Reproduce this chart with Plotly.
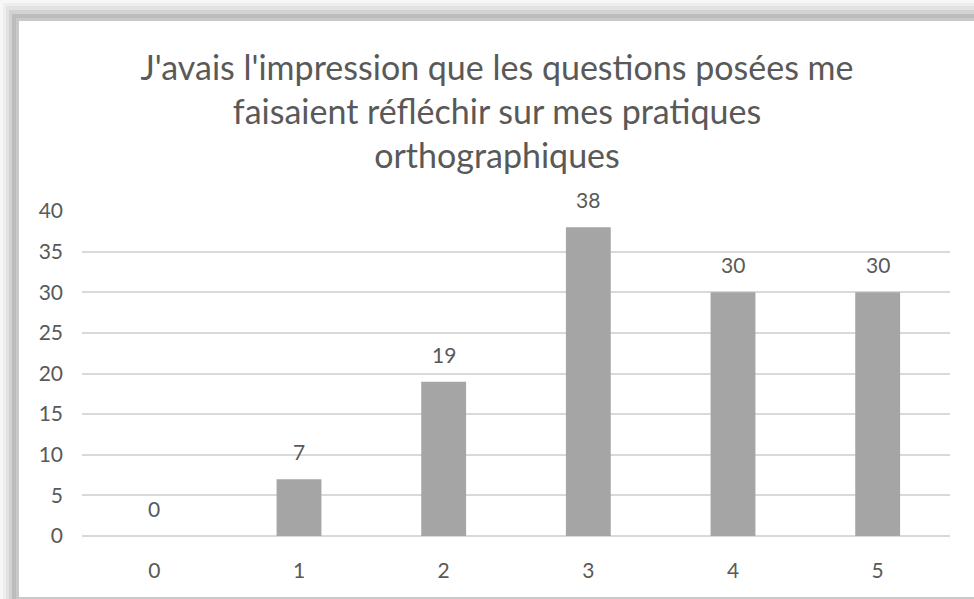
import plotly.graph_objects as go

# Survey scores (0-5) and the number of answers for each
categories = [0, 1, 2, 3, 4, 5]
counts = [0, 7, 19, 38, 30, 30]
y_ticks = [0, 5, 10, 15, 20, 25, 30, 35, 40]

title_lines = [
    "J'avais l'impression que les questions posées me",
    "faisaient réfléchir sur mes pratiques",
    "orthographiques",
]

TEXT = "#595959"
FONT = "Lato"
W, H = 974, 599
L, R, T, B = 82, 24, 211, 63

# pixel -> paper coordinate helpers for the frame decoration
pw, ph = W - L - R, H - T - B


def px(x):
    return (x - L) / pw


def py(y):
    return (H - B - y) / ph


fig = go.Figure()
fig.add_trace(go.Bar(
    x=categories,
    y=counts,
    marker=dict(color="#a5a5a5", line=dict(width=0)),
    width=0.31,
    hoverinfo="x+y",
))

# value labels above each bar
annotations = [
    dict(x=c, y=v, text=str(v), xref="x", yref="y", showarrow=False,
         yanchor="bottom", yshift=13, font=dict(family=FONT, size=21, color=TEXT))
    for c, v in zip(categories, counts)
]

# soft drop-shadow frame around the white chart area
shadow = [
    (0, 0, "#f7f7f7"),
    (3, 3, "#eeeeee"),
    (6, 6, "#e2e2e2"),
    (9, 10, "#d2d2d2"),
    (12, 14, "#bcbcbc"),
    (16, 18, "#c9c9c9"),
]
shapes = []
for x0, y0, col in shadow:
    shapes.append(dict(type="rect", xref="paper", yref="paper", layer="below",
                       x0=px(x0), x1=px(W), y0=py(H), y1=py(y0),
                       fillcolor=col, line=dict(width=0)))
shapes.append(dict(type="rect", xref="paper", yref="paper", layer="below",
                   x0=px(19), x1=px(W), y0=py(597), y1=py(21),
                   fillcolor="white", line=dict(width=0)))

fig.update_layout(
    width=W, height=H,
    margin=dict(l=L, r=R, t=T, b=B),
    paper_bgcolor="#f7f7f7",
    plot_bgcolor="rgba(0,0,0,0)",
    showlegend=False,
    title=dict(
        text="<br>".join(title_lines),
        x=497 / W, xanchor="center", xref="container",
        y=1 - 80 / H, yanchor="top", yref="container",
        font=dict(family=FONT, size=34, color=TEXT),
    ),
    xaxis=dict(
        range=[-0.5, 5.5],
        tickvals=categories,
        ticktext=[str(c) for c in categories],
        showgrid=False, zeroline=False, showline=False,
        ticks="", ticklabelstandoff=20,
        tickfont=dict(family=FONT, size=21, color=TEXT),
    ),
    yaxis=dict(
        range=[0, 40],
        tickvals=y_ticks,
        showgrid=True, gridcolor="#d9d9d9", gridwidth=1.6,
        zeroline=True, zerolinecolor="#d9d9d9", zerolinewidth=1.6,
        showline=False, ticks="", ticklabelstandoff=18,
        tickfont=dict(family=FONT, size=21, color=TEXT),
    ),
    annotations=annotations,
    shapes=shapes,
    bargap=0.69,
)

fig.write_html("out.html")
